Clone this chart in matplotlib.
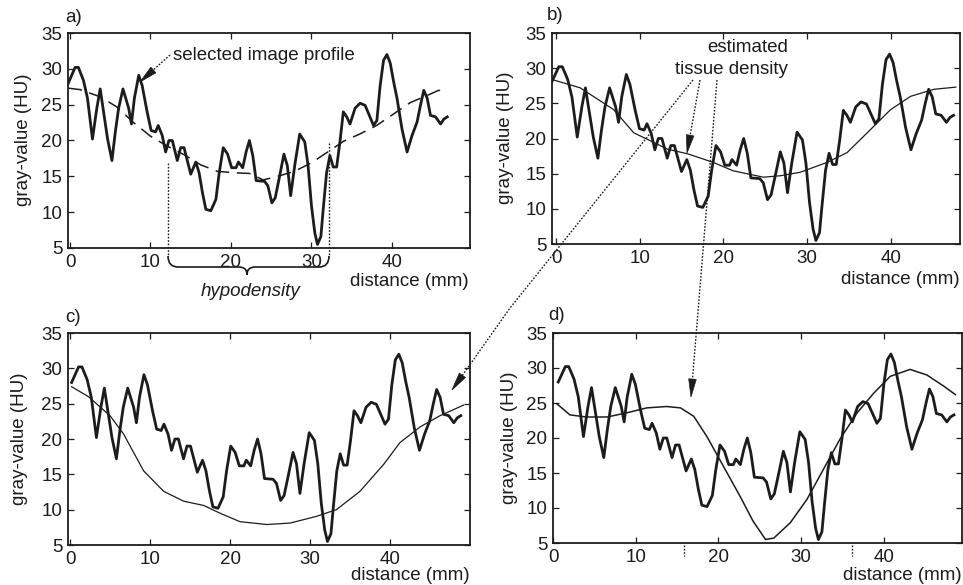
import matplotlib
matplotlib.use("Agg")
import matplotlib.pyplot as plt
import numpy as np
from matplotlib.lines import Line2D
from matplotlib.patches import Polygon, PathPatch
from matplotlib.path import Path

plt.rcParams['font.family'] = ['Liberation Sans', 'DejaVu Sans']

# ---------------- data ----------------
# selected image profile (as read in panel a, distance mm / gray-value HU)
profile_x = [-0.21, 0.63, 1.04, 1.67, 2.17, 2.79, 3.33, 3.75, 4.17, 4.67, 5.21, 5.63, 6.04, 6.58,
             7.29, 7.63, 8.0, 8.54, 8.96, 9.58, 10.08, 10.63, 10.96, 11.46, 11.88, 12.29, 12.71,
             13.33, 13.75, 14.17, 15.0, 15.63, 16.04, 16.46, 16.88, 17.5, 18.13, 18.54, 19.04,
             19.58, 20.08, 20.63, 20.92, 21.46, 21.88, 22.29, 22.71, 23.13, 24.17, 24.58, 25.08,
             25.5, 26.04, 26.58, 27.0, 27.42, 27.92, 28.54, 29.17, 29.58, 30.0, 30.42, 30.75,
             31.17, 31.46, 31.88, 32.29, 32.71, 33.13, 33.54, 33.96, 34.38, 34.79, 35.42, 36.04,
             36.67, 37.08, 37.71, 38.13, 38.54, 38.96, 39.38, 39.79, 40.21, 40.63, 41.25, 41.88,
             42.5, 43.13, 43.54, 43.96, 44.38, 44.79, 45.42, 46.04, 46.46, 46.88]
profile_y = [28.0, 30.2, 30.2, 28.4, 25.9, 20.2, 24.5, 27.2, 24.0, 20.2, 17.2, 21.2, 24.5, 27.2,
             24.5, 22.3, 25.9, 29.1, 27.7, 24.0, 21.4, 21.2, 22.1, 20.7, 18.4, 20.0, 20.0, 17.2,
             19.0, 19.0, 15.3, 17.0, 15.5, 12.7, 10.4, 10.2, 11.8, 15.5, 19.0, 18.1, 16.2, 16.2,
             17.0, 16.2, 18.4, 20.0, 17.9, 14.4, 14.3, 13.7, 11.3, 12.0, 15.0, 18.1, 16.5, 12.3,
             16.5, 20.9, 19.8, 16.5, 10.9, 7.1, 5.5, 6.6, 10.4, 15.5, 17.9, 16.3, 16.3, 19.8,
             24.0, 23.3, 22.3, 24.5, 25.2, 24.9, 23.8, 22.1, 22.8, 27.7, 31.2, 32.0, 30.8, 28.2,
             25.9, 21.6, 18.4, 20.7, 22.6, 24.9, 27.0, 25.9, 23.5, 23.3, 22.3, 23.0, 23.3]

# distance scale / offset of the profile in each panel (a, b, c, d)
panel_scale = [1.0, 1.0206, 1.033, 1.018]
panel_shift = [0.0, -0.31, 0.42, 0.80]

# panel a: dashed estimate
est_a_x = [-0.2, 1.25, 3.75, 5.8, 7.9, 10.0, 12.1, 14.2, 16.25, 18.3, 20.4, 22.3, 24.0, 25.8,
           27.9, 30.0, 31.9, 34.0, 36.0, 38.1, 40.2, 42.3, 44.2, 45.8, 46.9]
est_a_y = [27.3, 27.1, 26.1, 24.7, 22.5, 20.6, 19.2, 18.0, 16.6, 15.7, 15.5, 15.4, 14.5, 15.0,
           15.7, 16.9, 18.3, 19.9, 20.9, 22.1, 23.7, 25.3, 26.2, 27.0, 26.9]

# panel b: estimated tissue density
est_b_x = [-0.5, 2.9, 6.9, 9.3, 10.9, 13.3, 15.8, 18.8, 21.2, 24.8, 26.8, 29.2, 32.4, 34.8,
           37.2, 40.0, 42.4, 45.2, 47.8]
est_b_y = [28.4, 27.2, 24.1, 20.8, 19.9, 18.5, 17.8, 16.6, 15.4, 14.5, 14.7, 15.2, 16.6, 18.0,
           20.8, 24.1, 26.0, 27.0, 27.3]

# panel c: estimated tissue density
est_c_x = [0.2, 2.3, 5.0, 6.7, 9.2, 11.7, 14.2, 16.7, 18.75, 21.25, 24.6, 27.5, 30.8, 33.3,
           36.25, 39.2, 41.25, 43.75, 46.25, 49.2]
est_c_y = [27.4, 26.0, 23.3, 20.7, 15.5, 12.6, 11.2, 10.6, 9.5, 8.3, 7.9, 8.1, 9.05, 10.0,
           12.6, 16.4, 19.5, 21.7, 23.3, 24.8]

# panel d: estimated tissue density
est_d_x = [0.4, 2.0, 4.0, 6.5, 8.9, 11.3, 13.7, 15.4, 17.0, 18.6, 20.6, 22.6, 24.2, 25.7,
           26.7, 28.7, 30.7, 32.7, 34.7, 36.8, 38.8, 40.8, 43.2, 45.25, 47.3, 48.7]
est_d_y = [24.9, 23.3, 23.0, 23.0, 23.6, 24.3, 24.5, 24.3, 23.1, 20.2, 15.95, 11.7, 8.1, 5.5,
           5.7, 7.9, 11.2, 15.5, 19.8, 23.6, 26.4, 28.8, 29.8, 29.0, 27.4, 26.2]

x_ticks = [0, 10, 20, 30, 40]
y_ticks = [5, 10, 15, 20, 25, 30, 35]
panel_letters = ['a)', 'b)', 'c)', 'd)']

# ---------------- layout ----------------
W, H = 963, 585
fig = plt.figure(figsize=(W / 100, H / 100), dpi=100)

def fx(x):
    return x / W

def fy(y):
    return 1 - y / H

# axes boxes in pixels: left, right, top, bottom
boxes = [(68, 470, 33, 248), (552, 960, 33, 244), (68, 470, 333, 545), (553, 962, 333, 543)]
xlims = [(-0.25, 49.7), (-0.48, 48.3), (-0.25, 50.0), (-0.05, 49.5)]

ink = '#1c1c1c'
FS = 13.5

axes = []
for i, (l, r, t, b) in enumerate(boxes):
    ax = fig.add_axes([fx(l), fy(b), (r - l) / W, (b - t) / H])
    ax.set_xlim(*xlims[i])
    ax.set_ylim(5, 35)
    ax.set_xticks(x_ticks)
    ax.set_yticks(y_ticks)
    ax.tick_params(direction='in', top=True, right=True, length=4, width=0.9,
                   labelsize=FS, pad=4, colors=ink)
    for s in ax.spines.values():
        s.set_linewidth(1.3)
        s.set_color(ink)
    px = np.array(profile_x) * panel_scale[i] + panel_shift[i]
    ax.plot(px, profile_y, color=ink, lw=2.0, solid_joinstyle='round')
    axes.append(ax)

axes[0].plot(est_a_x, est_a_y, color=ink, lw=1.1, dashes=(9, 5))
axes[1].plot(est_b_x, est_b_y, color=ink, lw=0.9)
axes[2].plot(est_c_x, est_c_y, color=ink, lw=0.9)
axes[3].plot(est_d_x, est_d_y, color=ink, lw=1.1)

# labels
letter_pos = [(65, 17), (547, 15), (65, 317), (548, 315)]
ylab_pos = [(23, 140), (506, 138), (20, 439), (509, 438)]
xlab_pos = [(469, 281), (960, 279), (470, 575), (962, 575)]
for i in range(4):
    fig.text(fx(letter_pos[i][0]), fy(letter_pos[i][1]), panel_letters[i], fontsize=FS,
             ha='left', va='center', color=ink)
    fig.text(fx(ylab_pos[i][0]), fy(ylab_pos[i][1]), 'gray-value (HU)', fontsize=FS,
             rotation=90, ha='center', va='center', color=ink)
    fig.text(fx(xlab_pos[i][0]), fy(xlab_pos[i][1]), 'distance (mm)', fontsize=FS,
             ha='right', va='center', color=ink)

# ---------------- annotations ----------------
def dotted(points, lw=1.0):
    xs = [fx(p[0]) for p in points]
    ys = [fy(p[1]) for p in points]
    fig.add_artist(Line2D(xs, ys, transform=fig.transFigure, color=ink, lw=lw,
                          linestyle=(0, (1.2, 1.2))))

def head(p_from, tip, length=18, half=3.8):
    d = np.array(tip, float) - np.array(p_from, float)
    d /= np.hypot(*d)
    n = np.array([-d[1], d[0]])
    base = np.array(tip) - d * length
    pts = [tip, base + n * half, base - n * half]
    fig.add_artist(Polygon([(fx(p[0]), fy(p[1])) for p in pts], closed=True,
                           transform=fig.transFigure, facecolor=ink, edgecolor=ink, lw=0.5))

def arrow(points):
    d = np.array(points[-1], float) - np.array(points[-2], float)
    d /= np.hypot(*d)
    end = np.array(points[-1], float) - d * 14
    dotted(points[:-1] + [tuple(end)])
    head(points[-2], points[-1])

fig.text(fx(173), fy(55), 'selected image profile', fontsize=FS, ha='left', va='center', color=ink)
arrow([(170, 55), (140, 82)])

fig.text(fx(788), fy(48), 'estimated', fontsize=FS, ha='right', va='center', color=ink)
fig.text(fx(788), fy(70), 'tissue density', fontsize=FS, ha='right', va='center', color=ink)
arrow([(693, 80), (510, 308), (452, 390)])
arrow([(700, 80), (687, 153)])
arrow([(717, 80), (691, 397)])

# hypodensity brace
dotted([(168, 163), (168, 257)])
dotted([(329, 143), (329, 257)])
verts = [(168, 256), (168, 267), (178, 267),
         (238, 267),
         (245, 267), (247, 270), (247, 275),
         (247, 270), (249, 267), (256, 267),
         (319, 267),
         (329, 267), (329, 256)]
codes = [Path.MOVETO, Path.CURVE3, Path.CURVE3,
         Path.LINETO,
         Path.CURVE4, Path.CURVE4, Path.CURVE4,
         Path.CURVE4, Path.CURVE4, Path.CURVE4,
         Path.LINETO,
         Path.CURVE3, Path.CURVE3]
brace = Path([(fx(x), fy(y)) for x, y in verts], codes)
fig.add_artist(PathPatch(brace, transform=fig.transFigure, facecolor='none', edgecolor=ink, lw=1.2))
fig.text(fx(251), fy(291), 'hypodensity', fontsize=FS, style='italic', ha='center', va='center', color=ink)

# small markers under panel d
dotted([(684, 545), (684, 556)])
dotted([(852, 545), (852, 556)])

fig.savefig('out.png', dpi=100)
